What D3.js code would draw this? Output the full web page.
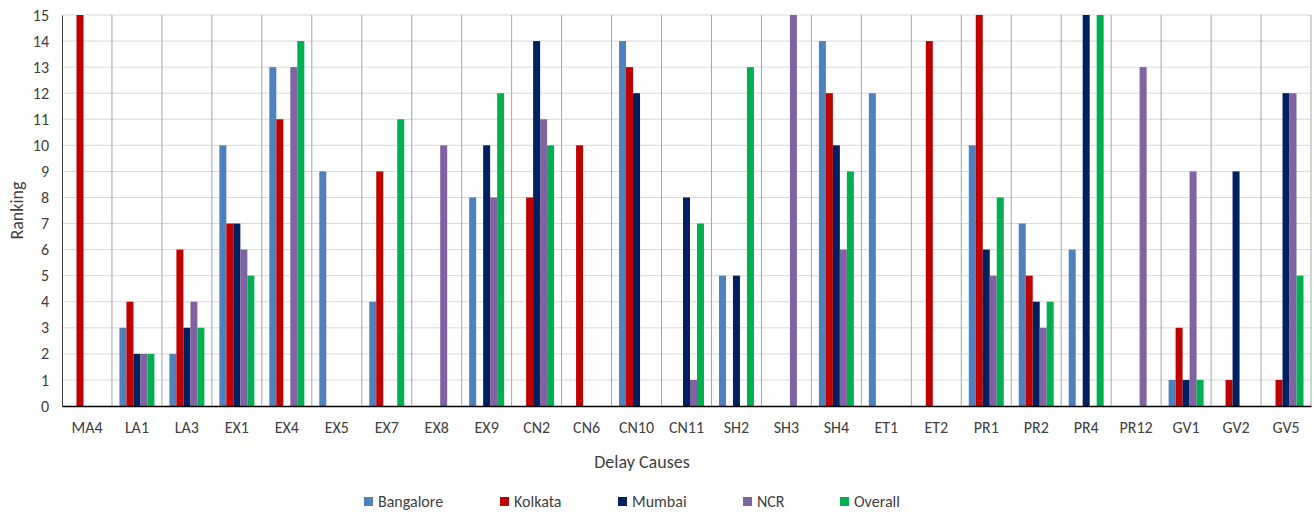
<!DOCTYPE html>
<html>
<head>
<meta charset="utf-8">
<script src="https://cdn.jsdelivr.net/npm/d3@7"></script>
<style>
  html, body { margin: 0; padding: 0; background: #fff; }
  svg text { font-family: Carlito, "Open Sans", "Liberation Sans", sans-serif; fill: #404040; }
</style>
</head>
<body>
<svg id="chart" width="1314" height="513"></svg>
<script>
// Delay causes (x categories)
const categories = ["MA4","LA1","LA3","EX1","EX4","EX5","EX7","EX8","EX9","CN2","CN6","CN10","CN11","SH2","SH3","SH4","ET1","ET2","PR1","PR2","PR4","PR12","GV1","GV2","GV5"];

// Ranking of each cause per region (null = not ranked)
const bangalore = [null,3,2,10,13,9,4,null,8,null,null,14,null,5,null,14,12,null,10,7,6,null,1,null,null];
const kolkata   = [15,4,6,7,11,null,9,null,null,8,10,13,null,null,null,12,null,14,15,5,null,null,3,1,1];
const mumbai    = [null,2,3,7,null,null,null,null,10,14,null,12,8,5,null,10,null,null,6,4,15,null,1,9,12];
const ncr       = [null,2,4,6,13,null,null,10,8,11,null,null,1,null,15,6,null,null,5,3,null,13,9,null,12];
const overall   = [null,2,3,5,14,null,11,null,12,10,null,null,7,13,null,9,null,null,8,4,15,null,1,null,5];

const seriesNames  = ["Bangalore","Kolkata","Mumbai","NCR","Overall"];
const seriesColors = ["#4f81bd","#c00000","#002060","#8064a2","#00b050"];
const yTicks = d3.range(0, 16);

const seriesValues = [bangalore, kolkata, mumbai, ncr, overall];
const rows = categories.map((c, i) => ({
  cat: c,
  vals: seriesNames.map((s, j) => ({ series: s, color: seriesColors[j], value: seriesValues[j][i] }))
}));

const FONT = "Carlito, 'Open Sans', 'Liberation Sans', sans-serif";
const svg = d3.select("#chart");
const margin = { left: 62, right: 3, top: 15, bottom: 107 };
const W = 1314, H = 513;
const plotW = W - margin.left - margin.right;
const plotH = H - margin.top - margin.bottom;

const g = svg.append("g").attr("transform", `translate(${margin.left},${margin.top})`);

const x = d3.scaleBand().domain(categories).range([0, plotW]).paddingInner(0).paddingOuter(0);
const x1 = d3.scaleBand().domain(seriesNames).range([x.bandwidth()*0.15, x.bandwidth()*0.85]).padding(0);
const y = d3.scaleLinear().domain([0, 15]).range([plotH, 0]);

// horizontal gridlines
g.append("g").selectAll("line").data(yTicks.filter(d => d > 0)).join("line")
  .attr("x1", 0).attr("x2", plotW)
  .attr("y1", d => y(d)).attr("y2", d => y(d))
  .attr("stroke", "#d9d9d9").attr("stroke-width", 1);

// vertical gridlines at category boundaries
g.append("g").selectAll("line").data(categories.slice(1).concat(["__end"])).join("line")
  .attr("x1", (d, i) => x.step() * (i + 1)).attr("x2", (d, i) => x.step() * (i + 1))
  .attr("y1", 0).attr("y2", plotH)
  .attr("stroke", "#a6a6a6").attr("stroke-width", 1);

// bars
const groups = g.append("g").selectAll("g").data(rows).join("g")
  .attr("transform", d => `translate(${x(d.cat)},0)`);
groups.selectAll("rect").data(d => d.vals.filter(v => v.value != null)).join("rect")
  .attr("x", d => x1(d.series))
  .attr("width", x1.bandwidth())
  .attr("y", d => y(d.value))
  .attr("height", d => plotH - y(d.value))
  .attr("fill", d => d.color);

// y axis
const yAxis = g.append("g").call(d3.axisLeft(y).tickValues(yTicks).tickSize(0).tickPadding(13));
yAxis.select(".domain").attr("stroke", "#404040").attr("stroke-width", 1);
yAxis.selectAll("text").style("font-size", "16px").style("fill", "#404040").style("font-family", FONT);

// x axis
const xAxis = g.append("g").attr("transform", `translate(0,${plotH})`)
  .call(d3.axisBottom(x).tickSize(0).tickPadding(16));
xAxis.select(".domain").attr("stroke", "#000").attr("stroke-width", 1.5);
xAxis.selectAll("text").style("font-size", "16px").style("fill", "#404040").style("font-family", FONT);

// axis titles
svg.append("text").attr("x", 642).attr("y", 468)
  .attr("text-anchor", "middle").style("font-size", "18px").text("Delay Causes");
svg.append("text").attr("transform", `translate(23,${margin.top + plotH / 2}) rotate(-90)`)
  .attr("text-anchor", "middle").style("font-size", "18px").text("Ranking");

// legend
const legendX = [364, 500, 618, 743, 840];
const legend = svg.append("g").selectAll("g").data(seriesNames).join("g")
  .attr("transform", (d, i) => `translate(${legendX[i]},501)`);
legend.append("rect").attr("x", 0).attr("y", -4).attr("width", 9).attr("height", 9)
  .attr("fill", (d, i) => seriesColors[i]);
legend.append("text").attr("x", 14).attr("y", 5.5).style("font-size", "16px").text(d => d);
</script>
</body>
</html>
